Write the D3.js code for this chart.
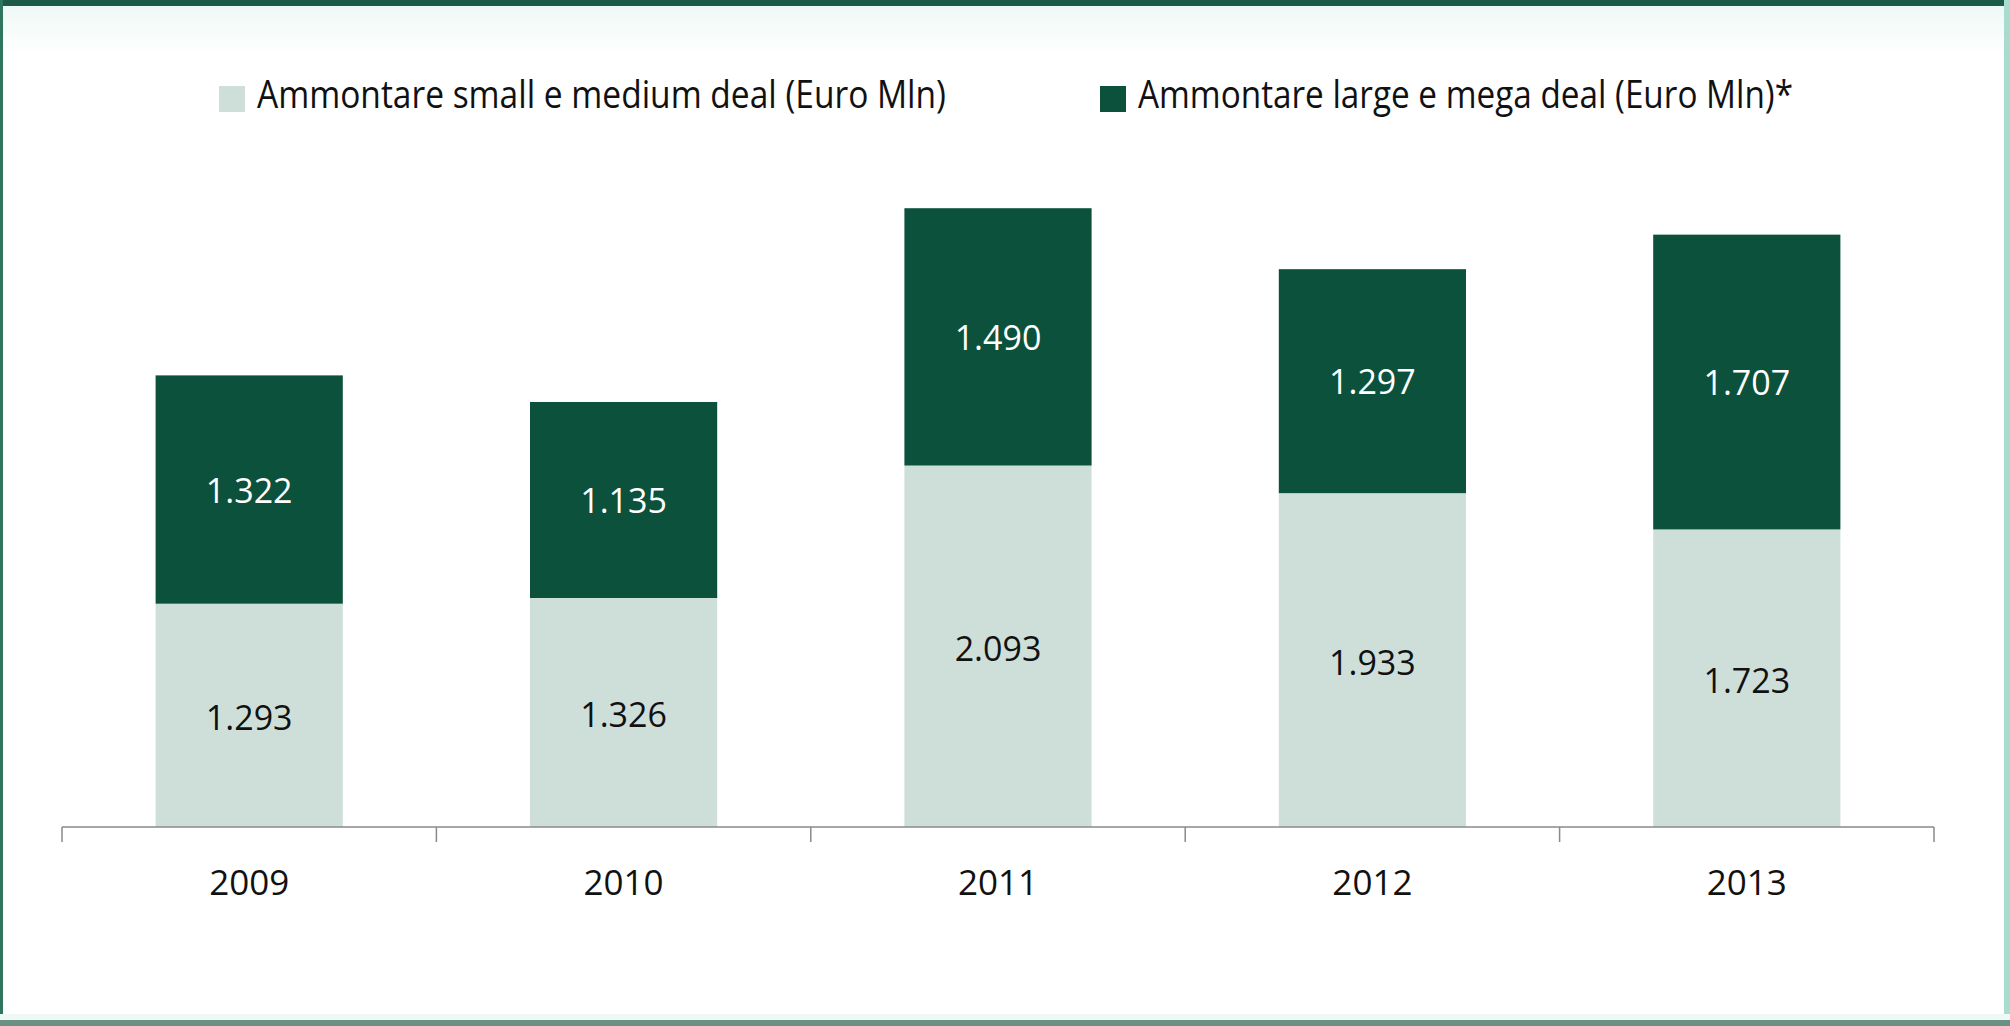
<!DOCTYPE html>
<html>
<head>
<meta charset="utf-8">
<script src="https://cdn.jsdelivr.net/npm/d3@7"></script>
<style>
html,body{margin:0;padding:0;background:#fff;}
svg{display:block;}
</style>
</head>
<body>
<svg id="chart" width="2010" height="1026"></svg>
<script>
const years = ["2009", "2010", "2011", "2012", "2013"];
const smallMedium = [1293, 1326, 2093, 1933, 1723];
const largeMega = [1322, 1135, 1490, 1297, 1707];
const seriesNames = ["Ammontare small e medium deal (Euro Mln)", "Ammontare large e mega deal (Euro Mln)*"];
const seriesColors = ["#cedfd9", "#0b513c"];

const fmt = v => d3.format(",")(v).replace(/,/g, ".");

const W = 2010, H = 1026;
const svg = d3.select("#chart");

// frame
svg.append("rect").attr("x", 0).attr("y", 0).attr("width", W).attr("height", H).attr("fill", "#ffffff");
const topGrad = svg.append("defs").append("linearGradient").attr("id", "tg").attr("x1", 0).attr("y1", 0).attr("x2", 0).attr("y2", 1);
topGrad.append("stop").attr("offset", 0).attr("stop-color", "#eef9f6");
topGrad.append("stop").attr("offset", 1).attr("stop-color", "#ffffff");
svg.append("rect").attr("x", 0).attr("y", 6).attr("width", W).attr("height", 50).attr("fill", "url(#tg)");
svg.append("rect").attr("x", 0).attr("y", 0).attr("width", W).attr("height", 6).attr("fill", "#1d5a47");
svg.append("rect").attr("x", 0).attr("y", 0).attr("width", 3).attr("height", H).attr("fill", "#2f7560");
svg.append("rect").attr("x", 2004).attr("y", 0).attr("width", 6).attr("height", H).attr("fill", "#a9dbcf");
svg.append("rect").attr("x", 0).attr("y", 1020).attr("width", W).attr("height", 6).attr("fill", "#6b9186");
svg.append("rect").attr("x", 0).attr("y", 1014).attr("width", W).attr("height", 6).attr("fill", "#eef8f5");

const axisY = 827;
const x = d3.scaleBand().domain(years).range([62, 1934]).paddingInner(0.5).paddingOuter(0.25);
const y = d3.scaleLinear().domain([0, 4000]).range([axisY, axisY - 4000 * 0.1727]);

const g = svg.append("g");

// bars
years.forEach((yr, i) => {
  const s = smallMedium[i], l = largeMega[i];
  g.append("rect").attr("x", x(yr)).attr("width", x.bandwidth())
    .attr("y", y(s)).attr("height", y(0) - y(s)).attr("fill", seriesColors[0]);
  g.append("rect").attr("x", x(yr)).attr("width", x.bandwidth())
    .attr("y", y(s + l)).attr("height", y(s) - y(s + l)).attr("fill", seriesColors[1]);
  g.append("text").attr("x", x(yr) + x.bandwidth() / 2).attr("y", (y(0) + y(s)) / 2 + 2)
    .attr("text-anchor", "middle").attr("dominant-baseline", "central")
    .attr("font-family", "Open Sans").attr("font-size", 34).attr("fill", "#111")
    .text(fmt(s));
  g.append("text").attr("x", x(yr) + x.bandwidth() / 2).attr("y", (y(s) + y(s + l)) / 2)
    .attr("text-anchor", "middle").attr("dominant-baseline", "central")
    .attr("font-family", "Open Sans").attr("font-size", 34).attr("fill", "#fff")
    .text(fmt(l));
});

// axis
const axis = svg.append("g").attr("transform", `translate(0,${axisY})`)
  .call(d3.axisBottom(x).tickSize(0).tickPadding(56));
axis.select(".domain").attr("stroke", "#8a8a8a").attr("stroke-width", 1.5).attr("d", `M${x.range()[0]},0H${x.range()[1]}`);
axis.selectAll(".tick text").attr("font-family", "Open Sans").attr("font-size", 35).attr("fill", "#111")
  .attr("dy", "0.35em");
const bounds = years.map(yr => x(yr) - x.step() * x.paddingOuter()).concat([x.range()[1]]);
axis.selectAll(".bound").data(bounds).enter().append("line")
  .attr("x1", d => d).attr("x2", d => d).attr("y1", 0).attr("y2", 15)
  .attr("stroke", "#8a8a8a").attr("stroke-width", 1.5);

// legend
const legendX = [219, 1100];
const legendW = [689, 655];
seriesNames.forEach((name, i) => {
  svg.append("rect").attr("x", legendX[i]).attr("y", 86).attr("width", 26).attr("height", 26).attr("fill", seriesColors[i]);
  svg.append("text").attr("x", legendX[i] + 38).attr("y", 108)
    .attr("font-family", "Open Sans").attr("font-size", 38).attr("fill", "#111")
    .attr("textLength", legendW[i]).attr("lengthAdjust", "spacingAndGlyphs")
    .text(name);
});
</script>
</body>
</html>
